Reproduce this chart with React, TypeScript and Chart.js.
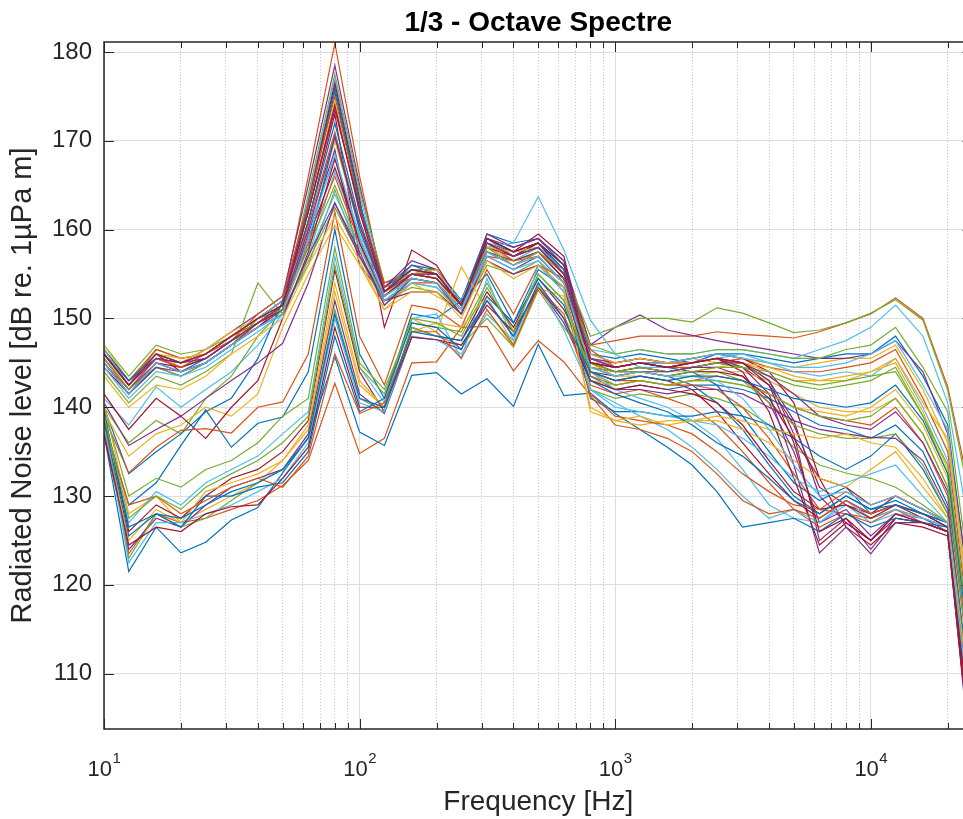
import React, { useEffect, useRef } from "react";
import { Chart, registerables } from "chart.js";

Chart.register(...registerables);

const FREQUENCIES = [10, 12.5, 16, 20, 25, 31.5, 40, 50, 63, 80, 100, 125, 160, 200, 250, 315, 400, 500, 630, 800, 1000, 1250, 1600, 2000, 2500, 3150, 4000, 5000, 6300, 8000, 10000, 12500, 16000, 20000, 25000];

const s00 = [146.5, 143, 145.5, 145, 146, 148, 150, 152, 163, 176, 163, 153.5, 155.5, 155, 152, 159.5, 158.5, 159, 156, 146, 145.5, 146, 145.5, 145, 146, 146, 145.5, 145, 145.5, 146, 146, 148, 143.5, 138, 116];
const s01 = [146.5, 143, 146.5, 145.5, 146, 148, 150, 152, 166, 181, 166, 153, 155, 155.5, 152, 159, 157.5, 158.5, 156, 147, 147.5, 148, 148, 148, 148.5, 148.2, 148, 147.8, 148.5, 149.5, 150.5, 152.3, 150, 142.3, 129];
const s02 = [145.5, 142.5, 146, 144.5, 145.5, 147.5, 149, 151, 162, 174, 162, 153, 154.5, 154, 151.5, 158.5, 157, 158, 155, 145, 145, 145.5, 145, 145.5, 145, 145.5, 145, 144.5, 145, 145.5, 145.5, 147, 142, 136, 113];
const s03 = [146, 142.5, 146, 145, 146.5, 148.5, 150.5, 152.5, 165, 178.5, 165, 153.5, 156, 155, 151.5, 159.5, 158, 159, 156.5, 147, 149, 150.4, 148.7, 148.1, 147.5, 147, 146.5, 146, 145.5, 145.5, 146, 147.5, 144, 137, 117];
const s04 = [147, 143.5, 147, 146, 146.5, 148, 150, 151.5, 164, 177.5, 164.5, 154, 155.5, 155.5, 152, 158.5, 157, 158.5, 155.5, 148, 149, 150, 150, 149.6, 151.2, 150.6, 149.5, 148.4, 148.7, 149.5, 150.6, 152.1, 149.8, 141.9, 128];
const s05 = [145.5, 142, 145.5, 144.5, 145.5, 147.5, 149.5, 151, 163.5, 177, 164, 153, 155, 154.5, 151, 158, 156.5, 158, 155, 146.5, 146, 146.5, 146, 146, 146.5, 146.5, 146, 145.5, 146.5, 147.5, 149, 151.5, 148, 140.5, 124];
const s06 = [146, 142.5, 146, 144, 145, 147, 149, 151.5, 163, 176.5, 163.5, 149, 157.7, 156, 151.5, 159, 157.5, 159.5, 157, 145, 144, 144.5, 144, 144.5, 145, 144.5, 142.5, 138, 131, 129, 128, 130, 128.5, 127, 104];
const s07 = [145, 141.5, 145, 144, 145.5, 147.5, 149.5, 151, 162.5, 175.5, 163, 153, 156, 155.5, 151.5, 158.5, 157.5, 158, 155.5, 144.5, 143.5, 144, 143.5, 142.5, 140.5, 137.5, 133.5, 130, 128, 130, 128.5, 129.5, 128, 126.5, 102];
const s08 = [146, 142.5, 146.5, 145.5, 146, 147.5, 150.5, 152.5, 163, 175, 162.5, 154, 155, 155, 152, 159, 157, 158.5, 156, 146.5, 144.5, 145, 144.5, 144.5, 145, 145.5, 144.5, 144, 144, 144.5, 145, 146.5, 141, 135, 112];
const s09 = [147, 143, 146, 145, 146.5, 148.5, 150, 151.5, 162, 174.5, 162, 152.5, 155.5, 154.5, 151, 158, 156.5, 157.5, 154.5, 145, 143.5, 143.5, 143, 143.5, 144, 144, 143, 141.5, 140, 139.5, 139.5, 141, 137, 131, 110];
const s10 = [146, 143, 145.5, 145, 146, 148, 150, 152, 162, 173.5, 162.5, 153.5, 156.5, 155.5, 152, 159, 158, 159, 156.5, 145.5, 145, 145.5, 145, 145, 145.5, 145, 143, 137, 125, 127.5, 124, 127.5, 127, 126, 100];
const s11 = [144, 140.5, 143.5, 142.5, 144, 146, 154, 150.5, 156.5, 162.5, 157, 152, 153.5, 153, 150.5, 156, 155, 156.5, 153, 142, 141, 141.5, 141, 141.5, 141, 140, 138, 135.5, 133.5, 132.6, 132, 131, 129, 127, 103];
const s12 = [141, 138, 142.3, 140, 142, 144, 147, 150.5, 157, 166.5, 159, 152, 154.5, 154, 151, 158, 158.5, 163.7, 157.7, 149.8, 146, 144.5, 144.5, 145, 145.5, 146, 145, 144, 143.5, 144, 143.5, 145.5, 140, 134, 110];
const s13 = [144.5, 141.5, 144.5, 143.5, 145, 147, 149.5, 151.5, 161, 173, 157, 152.5, 155, 154.5, 151.5, 158, 157, 158.5, 155, 145, 144.5, 145, 145, 145.5, 146, 145.5, 144, 140.5, 132, 126.5, 124.5, 127, 126.5, 125.5, 99];
const s14 = [146.5, 143, 146, 145, 146, 148, 150, 151, 161, 172, 161, 153, 155.5, 155, 152, 159, 157.5, 158.5, 156, 145.5, 144.5, 145, 144.5, 144, 142.5, 139, 135, 131.5, 129.5, 131, 128, 129, 128, 127, 105];
const s15 = [145, 142, 145.5, 144.5, 145.5, 147.5, 149.5, 151.5, 160.5, 171, 160.5, 153.5, 154.5, 154, 151, 158.5, 156.5, 157.5, 155.5, 144, 143, 143, 142.5, 143, 143.5, 143, 141.5, 140, 139, 138.5, 138, 140, 136, 130, 108];
const s16 = [146, 142.5, 146, 145.5, 146, 148, 149.5, 151, 160, 170, 160, 153, 155, 155.5, 151.5, 158, 157.5, 158, 155, 145, 143.5, 144, 144, 144, 144.5, 145, 144, 143, 143, 143.5, 144, 145, 139.5, 133, 108];
const s17 = [145.5, 142, 145, 144, 145, 147, 149, 151, 159.5, 169, 156, 152.5, 154.5, 154, 151, 157.5, 156.5, 157.5, 154.5, 146, 145, 145.5, 145, 145, 145.5, 144.5, 141.5, 133.5, 123.6, 126.5, 123.5, 127, 127, 126, 98];
const s18 = [140, 136, 138.5, 137, 141, 143.5, 148, 151, 156, 164.5, 157, 151.5, 154, 153.5, 150.5, 157.5, 156, 157, 154, 147, 146, 146.5, 146, 146, 146.5, 146.5, 146, 145.5, 145.5, 146.5, 147, 149, 144.5, 139.5, 118];
const s19 = [146.5, 142.5, 146, 145, 146, 148, 150, 152, 160, 168, 159.5, 153, 155.5, 155, 152, 158.5, 157, 158, 155.5, 145.5, 144.5, 145, 145, 145.5, 146, 145.5, 145, 144.5, 144.5, 145, 146, 147.5, 142.5, 137.5, 114];
const s20 = [145, 141.5, 145, 144.5, 145.5, 147.5, 149.5, 151, 159, 167, 159, 152.5, 155, 154.5, 151.5, 157.5, 156, 157.5, 154.5, 144, 143, 143.5, 143, 142, 139.5, 136, 132.5, 129.5, 127.5, 129.5, 128, 129, 127.5, 126.5, 101];
const s21 = [140, 132.5, 135, 137, 139.5, 141, 145.5, 152, 158, 170.5, 160, 153, 155.5, 155, 151.5, 159, 157.5, 158.5, 155.5, 143.5, 142, 142.5, 142, 142.5, 142.5, 142, 141, 139.5, 138, 137.5, 136.5, 138, 135, 129, 106];
const s22 = [146, 142.5, 145.5, 144.5, 146, 148, 149.5, 151.5, 158.5, 166, 158.5, 152, 154, 154, 151, 157, 156.5, 157, 154, 143.5, 142.5, 143, 142.5, 142.5, 142, 140, 136.5, 132.5, 128.5, 128, 127.5, 128.5, 127.5, 126.5, 103];
const s23 = [139.5, 134.5, 137, 138, 140, 139, 141.5, 149, 155, 160.5, 156, 151, 154, 152.5, 151, 156.5, 155, 156, 153, 143, 142.5, 143, 142.5, 143, 143, 142.5, 141.5, 140, 139.5, 139, 140, 142, 138, 132, 109];
const s24 = [140.5, 135.7, 137.5, 139, 141, 143, 145, 147.2, 154, 163, 157, 152, 153, 153, 150.5, 157, 155.5, 157, 154, 144.5, 144, 144.5, 144, 144.5, 145, 145, 143, 138.5, 130, 127, 125, 128, 127.5, 126, 101];
const s25 = [145.5, 142, 144.5, 143.5, 145, 147, 150, 151, 158, 165, 158, 152.5, 155, 154.5, 151.5, 158, 156, 157.5, 155, 144.5, 144, 144.5, 144, 144.5, 145, 144.5, 143.5, 142.5, 142, 142.5, 143, 144.5, 139, 132.5, 112];
const s26 = [144.5, 141, 144, 143.5, 144.5, 146.5, 148.5, 150.5, 157, 164, 158, 152, 154, 153.5, 151, 157, 155.5, 156.5, 154, 144, 142, 141, 140, 138.5, 136.5, 133, 129, 127.5, 127, 129, 127, 128, 127.5, 126.5, 102];
const s27 = [141.5, 137.5, 141, 139, 136.5, 140, 143, 150, 157.5, 168, 158.5, 152.5, 155, 154.5, 151.5, 158.5, 157, 158, 155, 145, 144.5, 145, 144.5, 145, 145.5, 144, 139.5, 132, 124.5, 127, 125, 127.5, 127, 126, 100];
const s28 = [138.5, 129, 131.5, 135.7, 139.7, 135.5, 138.2, 138.9, 144, 160, 146, 141, 150.5, 150, 152, 155, 149.5, 155.5, 153.5, 141, 139.5, 139.5, 139, 139, 139.5, 139, 138, 136.5, 134.5, 133, 134.5, 137, 133, 128, 106];
const s29 = [139, 132.6, 135.5, 137.4, 137.6, 137.1, 140, 140.6, 146, 162, 148, 142.5, 151.5, 151, 149, 155.5, 150.5, 156, 154.5, 142.5, 141.5, 142, 141, 140, 138, 135, 131.5, 128.5, 126.5, 128, 127, 128.5, 127, 126, 100];
const s30 = [140.5, 128, 130, 127, 128.5, 130, 131.5, 134, 137.5, 153, 142.5, 140, 150, 148.5, 155.8, 151, 146.8, 154, 150, 146, 145, 145.5, 145, 145, 145.5, 145, 144.5, 143.5, 143, 143, 144, 145.5, 140.5, 136.5, 115];
const s31 = [145, 141.5, 144.5, 144, 145, 147, 149, 150.5, 157, 163, 157.5, 151.5, 154.5, 154, 150.5, 156.5, 155, 156, 153.5, 144, 143.5, 144, 144, 144.5, 144.5, 143.5, 140.5, 135, 127, 128.5, 125.5, 128, 127, 126, 99];
const s32 = [140, 130, 132, 131, 133, 134, 136, 139, 141, 158, 145, 142, 149.5, 149, 148.5, 154, 148.5, 155, 152, 144.5, 143.5, 144, 143.5, 144, 144, 143, 140.5, 138, 137, 136.5, 136.5, 137, 133.5, 128, 105];
const s33 = [137.5, 127, 130.5, 129, 131.5, 133, 134.5, 137, 139.5, 157, 144.5, 140.5, 150, 150.5, 145.5, 154.5, 147.5, 156, 153, 142, 140.5, 139, 137.5, 135.5, 133, 130, 127.5, 128.5, 127, 129.5, 127.5, 128.5, 127.5, 126.5, 103];
const s34 = [139.5, 126, 129, 127.5, 130, 132, 133, 135, 138.5, 155.5, 144, 139.5, 149, 148, 147.5, 153, 149, 154.5, 151, 145, 144, 144, 143.5, 144, 144, 143.5, 141, 136.5, 132, 131, 129, 130, 128.5, 127, 103];
const s35 = [137, 121.5, 126.5, 123.6, 124.8, 127.3, 128.7, 132.6, 136.6, 145.7, 137.2, 135.7, 143.6, 143.9, 141.5, 143.2, 140.1, 147.1, 141.3, 141.6, 139.3, 137.5, 135.5, 133.5, 130.5, 126.5, 127, 127.5, 126, 128, 126.5, 127.5, 127, 126.5, 102];
const s36 = [138, 123.5, 128, 127, 127.5, 128.5, 129.5, 131.2, 134, 142.7, 134.8, 136.5, 145, 145.1, 149, 149.1, 144.1, 147.5, 145.1, 141.3, 138, 137.5, 136.5, 135, 132.5, 129.5, 128, 128.5, 127.5, 129.5, 128, 129, 128, 127, 103];
const s37 = [138, 125, 128.5, 127, 130.5, 131.5, 132.5, 134, 138, 154, 143, 140, 148.5, 149.5, 149, 152.5, 147, 153.4, 152.5, 140, 138.5, 138, 138.5, 138.5, 138.5, 137.5, 136, 134, 132, 131, 133, 135, 131, 127.5, 104];
const s38 = [137, 124, 127.5, 126.5, 129, 131, 132, 133, 137, 152, 141.5, 139.3, 147.9, 147.6, 146.5, 152, 148, 153.5, 149.5, 143, 142, 142, 141.5, 142, 142, 141.5, 140, 138.5, 137.5, 137, 136.6, 136.5, 134, 128.5, 104];
const s39 = [139, 123, 128, 126.5, 127.5, 129.5, 131.5, 133, 136.5, 151, 141, 139.5, 149, 148, 147, 150, 146.8, 153.2, 149, 145, 144, 144, 143.5, 144, 144.5, 144.5, 144, 143, 142.5, 143, 143.5, 144, 139, 133.5, 111];
const s40 = [138.5, 122.5, 127, 127, 128, 129, 130.5, 132, 136, 150, 140.5, 139.5, 148, 147.6, 146, 150.5, 147.5, 154, 148.7, 142, 140, 139.5, 139, 138.5, 138, 136.5, 134.5, 132, 130.5, 131.5, 132.5, 133.5, 130, 127, 104];
const s41 = [137, 124.5, 126.5, 126, 128, 128.8, 129, 132, 135.5, 149, 140, 140, 147.9, 147.6, 147, 151.5, 148.5, 153.5, 150, 143, 142, 142.5, 142, 141.5, 140.5, 138, 134, 130.5, 128.5, 129, 127.5, 129, 128, 126.5, 101];
const s42 = [139.5, 126.5, 128, 126.5, 130, 130, 131, 131.5, 135, 148, 139.5, 141, 149.5, 149, 146.5, 152.5, 149.5, 154.5, 151.5, 143, 141.5, 140.5, 139.5, 138, 136, 134.5, 132, 129.5, 128, 130, 128.5, 129, 128, 127, 104];
const s43 = [138, 129, 130, 128, 129.5, 131, 132, 131, 134.5, 146, 139.3, 140.5, 148.5, 148.5, 145.5, 151, 147, 153.5, 150.5, 141.5, 139, 138.5, 138, 137, 135, 132.5, 130.5, 129, 128.5, 130.5, 129, 130, 128.5, 127, 105];
const s44 = [143.5, 140, 142.5, 142, 143.5, 146, 148, 150, 156, 161.5, 156.5, 151, 153, 153, 150, 156.5, 154.5, 156, 153.5, 139.5, 138.5, 139, 138, 138.5, 139, 138.5, 137.5, 137, 136.5, 137, 136, 135.5, 132, 127.5, 105];
const s45 = [146, 142.5, 145.5, 145, 145.5, 147.5, 149.5, 151.5, 160, 170.5, 160.5, 153, 155, 155, 151.5, 158.5, 157, 158, 155, 145.5, 144.5, 145, 144.5, 145, 145.5, 145, 143.5, 141.5, 139, 138, 137.5, 139.5, 136, 130.5, 109];
const s46 = [139, 127.5, 130, 128.5, 131, 132.5, 134, 136, 139, 156, 144.5, 141.5, 150, 149.5, 148, 153.5, 148.5, 155, 152, 144, 142.5, 143, 142.5, 143, 143, 142.5, 141.5, 140, 139, 138.5, 139, 141, 137, 131, 108];
const s47 = [145, 141.5, 145, 144, 145, 147, 149, 150.5, 159, 168.5, 159, 152.5, 154.5, 154, 151, 157.5, 156, 157, 154, 144.5, 143.5, 144, 143.5, 143.5, 143, 141, 137.5, 133.5, 130, 130.5, 129, 130, 128.5, 127, 103];
const s48 = [146, 142.5, 146, 145, 146, 148, 150, 151.5, 162, 174, 162, 153, 155.5, 155, 151.5, 159, 157.5, 158.5, 156, 145, 144.5, 145, 144.5, 145, 145.5, 145, 142.5, 136, 126, 127.5, 125, 128, 127, 126, 99];
const s49 = [138.5, 125.5, 128, 127.5, 129, 130.5, 131.5, 133, 136.5, 150.5, 141, 140, 148.5, 148, 147.5, 152, 148, 154, 150, 144, 143, 143.5, 143, 143.5, 143.5, 143, 142, 141, 140.5, 140, 140.5, 142.5, 138.5, 132.5, 110];

const SERIES = [s00, s01, s02, s03, s04, s05, s06, s07, s08, s09, s10, s11, s12, s13, s14, s15, s16, s17, s18, s19, s20, s21, s22, s23, s24, s25, s26, s27, s28, s29, s30, s31, s32, s33, s34, s35, s36, s37, s38, s39, s40, s41, s42, s43, s44, s45, s46, s47, s48, s49];

const LINE_COLORS = ["#0072BD", "#D95319", "#EDB120", "#7E2F8E", "#77AC30", "#4DBEEE", "#A2142F"];

const X_GRID_TICKS = [10, 20, 30, 40, 50, 60, 70, 80, 90, 100, 200, 300, 400, 500, 600, 700, 800, 900, 1000, 2000, 3000, 4000, 5000, 6000, 7000, 8000, 9000, 10000, 20000];
const X_DECADES = [10, 100, 1000, 10000];
const X_EXPONENTS = ["1", "2", "3", "4"];
const Y_TICKS = [110, 120, 130, 140, 150, 160, 170, 180];

const X_MIN = 10;
const X_MAX = 25000;
const Y_MIN = 103.77;
const Y_MAX = 181.13;

const TITLE = "1/3 - Octave Spectre";
const X_TITLE = "Frequency [Hz]";
const Y_TITLE = "Radiated Noise level [dB re. 1\u00B5Pa m]";

const FONT = "'Liberation Sans', Arial, Helvetica, sans-serif";
const CANVAS_W = 990;
const CANVAS_H = 819;
const PLOT_RIGHT = 972.5;

const isDecade = (v: number) => Math.abs(Math.log10(v) - Math.round(Math.log10(v))) < 1e-9;

const matlabAxes = {
  id: "matlabAxes",
  afterDraw(chart: any) {
    const { ctx, chartArea: a, scales } = chart;
    const xs = scales.x;
    const ys = scales.y;
    ctx.save();
    ctx.strokeStyle = "#262626";
    ctx.lineWidth = 1;
    ctx.beginPath();
    for (const v of X_GRID_TICKS) {
      const px = Math.round(xs.getPixelForValue(v)) + 0.5;
      const len = isDecade(v) ? 10 : 6;
      ctx.moveTo(px, a.bottom);
      ctx.lineTo(px, a.bottom - len);
      ctx.moveTo(px, a.top);
      ctx.lineTo(px, a.top + len);
    }
    for (const v of Y_TICKS) {
      const py = Math.round(ys.getPixelForValue(v)) + 0.5;
      ctx.moveTo(a.left, py);
      ctx.lineTo(a.left + 10, py);
      ctx.moveTo(a.right, py);
      ctx.lineTo(a.right - 10, py);
    }
    ctx.stroke();
    ctx.lineWidth = 1.5;
    ctx.strokeRect(a.left, a.top, a.right - a.left, a.bottom - a.top);

    ctx.fillStyle = "#262626";
    ctx.textBaseline = "alphabetic";
    ctx.textAlign = "left";
    X_DECADES.forEach((d, i) => {
      const px = xs.getPixelForValue(d);
      ctx.font = `22px ${FONT}`;
      const wb = ctx.measureText("10").width;
      ctx.font = `15px ${FONT}`;
      const we = ctx.measureText(X_EXPONENTS[i]).width;
      const start = px - (wb + we) / 2;
      ctx.font = `22px ${FONT}`;
      ctx.fillText("10", start, a.bottom + 47);
      ctx.font = `15px ${FONT}`;
      ctx.fillText(X_EXPONENTS[i], start + wb + 0.5, a.bottom + 34);
    });
    ctx.restore();
  },
};

export default function App() {
  const ref = useRef<HTMLCanvasElement>(null);

  useEffect(() => {
    if (!ref.current) return;
    const datasets = SERIES.map((s, i) => ({
      label: `Series ${i + 1}`,
      data: FREQUENCIES.map((f, j) => ({ x: f, y: s[j] })),
      borderColor: LINE_COLORS[i % LINE_COLORS.length],
      backgroundColor: LINE_COLORS[i % LINE_COLORS.length],
      borderWidth: 1.2,
      pointRadius: 0,
      pointHoverRadius: 0,
      tension: 0,
      fill: false,
      order: -i,
    }));

    const chart = new Chart(ref.current, {
      type: "line",
      data: { datasets },
      options: {
        animation: false,
        responsive: false,
        devicePixelRatio: 1,
        events: [],
        layout: { padding: { left: 0, top: 0, bottom: 0, right: CANVAS_W - PLOT_RIGHT } },
        plugins: {
          legend: { display: false },
          tooltip: { enabled: false },
          title: {
            display: true,
            text: TITLE,
            fullSize: false,
            color: "#000000",
            font: { family: FONT, size: 28, weight: "bold", lineHeight: 1.2 },
            padding: { top: 6.2, bottom: 2.2 },
          },
        },
        scales: {
          x: {
            type: "logarithmic",
            min: X_MIN,
            max: X_MAX,
            afterBuildTicks: (s: any) => {
              s.ticks = X_GRID_TICKS.map((v) => ({ value: v }));
            },
            ticks: { display: false },
            grid: {
              drawTicks: false,
              lineWidth: 1,
              color: (c: any) => (c.tick && !isDecade(c.tick.value) ? "#c9c9c9" : "#dedede"),
            },
            border: {
              display: false,
              dash: (c: any) => (c.tick && !isDecade(c.tick.value) ? [1, 2] : []),
            },
            title: {
              display: true,
              text: X_TITLE,
              color: "#262626",
              font: { family: FONT, size: 28, lineHeight: 1.2 },
              padding: { top: 0, bottom: 0 },
            },
            afterFit: (s: any) => {
              s.height = 90;
            },
          },
          y: {
            type: "linear",
            min: Y_MIN,
            max: Y_MAX,
            afterBuildTicks: (s: any) => {
              s.ticks = Y_TICKS.map((v) => ({ value: v }));
            },
            ticks: { color: "#262626", font: { family: FONT, size: 24 }, padding: 12 },
            grid: { drawTicks: false, lineWidth: 1, color: "#dedede" },
            border: { display: false },
            title: {
              display: true,
              text: Y_TITLE,
              color: "#262626",
              font: { family: FONT, size: 29, lineHeight: 1.2 },
              padding: { top: 5.6, bottom: 0 },
            },
            afterFit: (s: any) => {
              s.width = 104;
            },
          },
        },
      },
      plugins: [matlabAxes],
    } as any);

    return () => chart.destroy();
  }, []);

  return (
    <div
      style={{
        position: "fixed",
        left: 0,
        top: 0,
        width: 963,
        height: 819,
        overflow: "hidden",
        background: "#ffffff",
      }}
    >
      <canvas
        ref={ref}
        width={CANVAS_W}
        height={CANVAS_H}
        style={{ display: "block", width: CANVAS_W, height: CANVAS_H }}
      />
    </div>
  );
}
